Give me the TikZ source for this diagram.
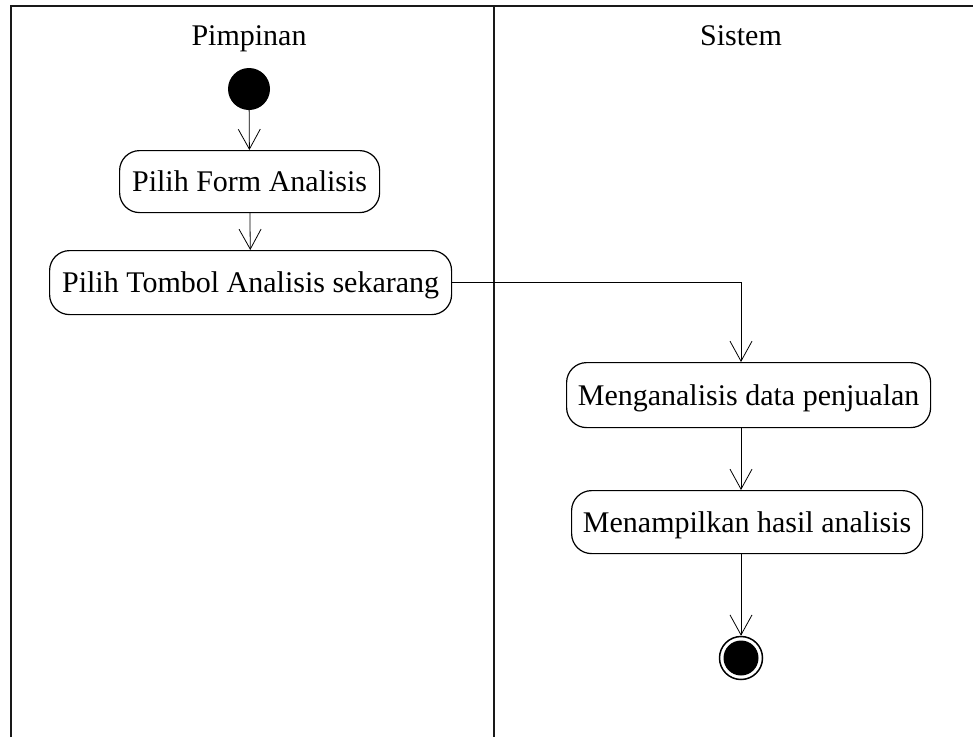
\documentclass[tikz,border=0pt]{standalone}
\usepackage{fontspec}
\setmainfont{Liberation Serif}
\usetikzlibrary{arrows.meta}
\begin{document}
\begin{tikzpicture}[x=1pt,y=-1pt,
  lane/.style={line width=2pt,black!90},
  act/.style={draw,line width=1.2pt,rounded corners=20pt,font=\fontsize{30}{34}\selectfont,inner sep=0pt,text height=20pt,text depth=0pt,anchor=north west},
  flow/.style={line width=0.8pt,-{Straight Barb[length=20pt,width=22pt,line width=0.8pt]}},
  title/.style={font=\fontsize{30}{34}\selectfont,anchor=base}]
\useasboundingbox (0,0) rectangle (973,737);
% swimlanes
\coordinate (tl) at (11,6);
\coordinate (tr) at (973,6);
\coordinate (bl) at (11,737);
\coordinate (dt) at (494,6);
\coordinate (db) at (494,737);
\draw[lane] (bl) -- (tl) -- (tr);
\draw[lane] (dt) -- (db);
\node[title] (p) at (249,45) {Pimpinan};
\node[title] (s) at (741,45) {Sistem};
% nodes
\node[circle,fill=black,minimum size=42pt,inner sep=0pt] (start) at (249,89) {};
\node[act,minimum width=260pt,minimum height=62pt] (a1) at (119,150) {Pilih Form Analisis};
\node[act,minimum width=402pt,minimum height=64pt] (a2) at (49,250) {Pilih Tombol Analisis sekarang};
\node[act,minimum width=364pt,minimum height=65pt] (a3) at (566,362) {Menganalisis data penjualan};
\node[act,minimum width=351pt,minimum height=63pt] (a4) at (571,490) {Menampilkan hasil analisis};
\node[circle,draw,line width=1.5pt,minimum size=43pt,inner sep=0pt] (end) at (741,658) {};
\node[circle,fill=black,minimum size=35pt,inner sep=0pt] (endin) at (end) {};
% flows
\draw[flow] (start) -- (a1);
\draw[flow] (a1) -- (a2);
\draw[flow] (a2.east) -| (a3.north -| end);
\draw[flow] (a3.south -| end) -- (a4.north -| end);
\draw[flow] (a4.south -| end) -- (end);
\end{tikzpicture}
\end{document}
